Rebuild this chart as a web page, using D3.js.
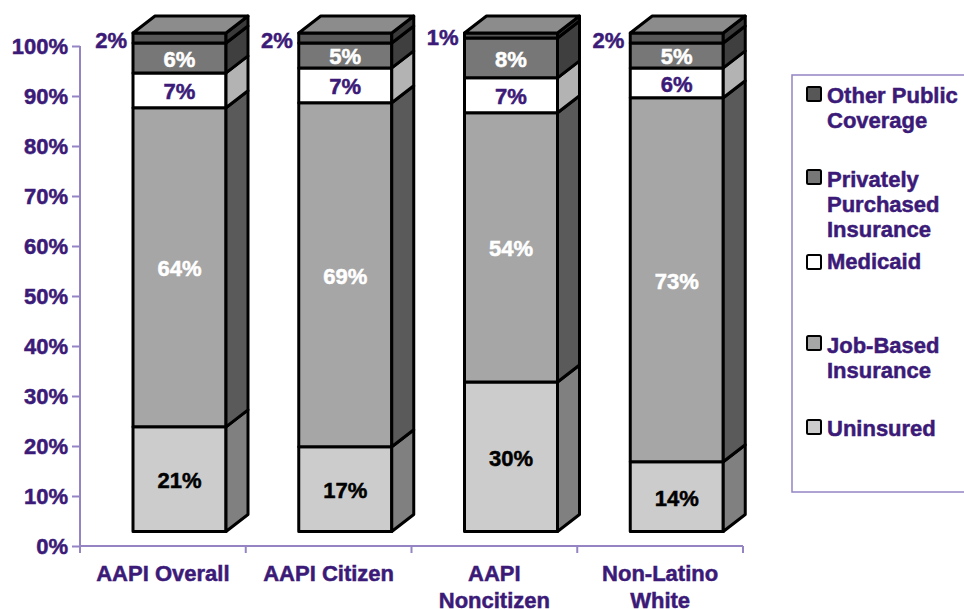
<!DOCTYPE html>
<html><head><meta charset="utf-8">
<script src="https://cdn.jsdelivr.net/npm/d3@7"></script>
<style>body{margin:0;background:#fff}svg{display:block}text{font-family:"Liberation Sans",Arial,sans-serif;font-weight:bold}</style>
</head><body><svg id="c" width="964" height="609"></svg>
<script>
const categories = ["AAPI Overall","AAPI Citizen","AAPI Noncitizen","Non-Latino White"];
const categoryLines = [["AAPI Overall"],["AAPI Citizen"],["AAPI","Noncitizen"],["Non-Latino","White"]];
const seriesNames = ["Uninsured","Job-Based Insurance","Medicaid","Privately Purchased Insurance","Other Public Coverage"];
const uninsured = [21,17,30,14];
const jobBased = [64,69,54,73];
const medicaid = [7,7,7,6];
const privatelyPurchased = [6,5,8,5];
const otherPublic = [2,2,1,2];
const yTicks = [0,10,20,30,40,50,60,70,80,90,100];
const legendLines = [["Other Public","Coverage"],["Privately","Purchased","Insurance"],["Medicaid"],["Job-Based","Insurance"],["Uninsured"]];

const series = [uninsured, jobBased, medicaid, privatelyPurchased, otherPublic];
const frontCol = ["#cccccc","#a6a6a6","#ffffff","#777777","#575757"];
const sideCol = ["#808080","#5a5a5a","#b3b3b3","#3f3f3f","#3a3a3a"];
const topCol = "#8c8c8c";
const labelCol = ["#000000","#ffffff","#3b1a78","#ffffff","#3b1a78"];
const purple = "#3b1a78";
const axisCol = "#9484c4";
const FS = 22;

const svg = d3.select("#c");
const y = d3.scaleLinear().domain([0,100]).range([546,46]);
const yb = d3.scaleLinear().domain([0,100]).range([531.5,33]);
const x = d3.scaleBand().domain(categories).range([80,743]).padding(0);
const barOff = 53, barW = 93, dx = 22, dy = 17;

function heavy(sel, col){ return sel.attr("fill",col).attr("stroke",col).attr("stroke-width",0.5); }

// axes
const ya = d3.axisLeft(y).tickValues(yTicks).tickFormat(d=>d+"%").tickSize(8).tickSizeOuter(0);
const gy = svg.append("g").attr("transform","translate(80,0)").call(ya);
gy.select(".domain").attr("stroke",axisCol).attr("stroke-width",2).attr("d","M0,553V46");
gy.selectAll(".tick line").attr("stroke",axisCol).attr("stroke-width",2);
heavy(gy.selectAll(".tick text"),purple).attr("font-size",FS).attr("font-family",null).attr("x",-12).attr("dy","0.36em");
gy.attr("font-family",null).attr("font-size",null);

const gx = svg.append("g");
gx.append("line").attr("x1",80).attr("x2",743).attr("y1",546).attr("y2",546).attr("stroke",axisCol).attr("stroke-width",2);
[...categories.map(c=>x(c)), 743].forEach(v=>{
  gx.append("line").attr("x1",v).attr("x2",v).attr("y1",546).attr("y2",553).attr("stroke",axisCol).attr("stroke-width",2);
});
categories.forEach((c,i)=>{
  const cx = x(c)+x.bandwidth()/2;
  categoryLines[i].forEach((ln,j)=>{
    heavy(gx.append("text").attr("x",cx).attr("y",581+j*27).attr("text-anchor","middle"),purple).attr("font-size",FS).text(ln);
  });
});

// bars
categories.forEach((c,i)=>{
  const g = svg.append("g");
  const xl = x(c)+barOff, xr = xl+barW;
  let cum = 0;
  series.forEach((s,k)=>{
    const v0 = cum, v1 = cum + s[i]; cum = v1;
    const y0 = yb(v0), y1 = yb(v1);
    g.append("rect").attr("x",xl).attr("y",y1).attr("width",barW).attr("height",y0-y1)
      .attr("fill",frontCol[k]).attr("stroke","#000").attr("stroke-width",3).attr("stroke-linejoin","round");
    g.append("path").attr("d",`M${xr},${y0}L${xr+dx},${y0-dy}L${xr+dx},${y1-dy}L${xr},${y1}Z`)
      .attr("fill",sideCol[k]).attr("stroke","#000").attr("stroke-width",3).attr("stroke-linejoin","round");
    if(k===series.length-1){
      g.append("path").attr("d",`M${xl},${y1}L${xl+dx},${y1-dy}L${xr+dx},${y1-dy}L${xr},${y1}Z`)
        .attr("fill",topCol).attr("stroke","#000").attr("stroke-width",3).attr("stroke-linejoin","round");
    }
  });
  cum = 0;
  series.forEach((s,k)=>{
    const v0 = cum, v1 = cum + s[i]; cum = v1;
    const ym = (yb(v0)+yb(v1))/2;
    if(k===series.length-1){
      heavy(g.append("text").attr("x",xl-6).attr("y",ym+2).attr("dy","0.36em").attr("text-anchor","end"),purple)
        .attr("font-size",FS).text(s[i]+"%");
    } else {
      heavy(g.append("text").attr("x",xl+barW/2).attr("y",ym+1).attr("dy","0.36em").attr("text-anchor","middle"),labelCol[k])
        .attr("font-size",FS).text(s[i]+"%");
    }
  });
});

// legend
const lg = svg.append("g");
lg.append("rect").attr("x",792).attr("y",75).attr("width",200).attr("height",417).attr("fill","#fff").attr("stroke",axisCol).attr("stroke-width",1.5);
const legCols = [frontCol[4],frontCol[3],frontCol[2],frontCol[1],frontCol[0]];
const sqY = [94,177,262,343,427];
const txtY = [95,179,261,345,428];
legendLines.forEach((lines,i)=>{
  lg.append("rect").attr("x",807).attr("y",sqY[i]-7).attr("width",14).attr("height",14)
    .attr("fill",legCols[i]).attr("stroke","#000").attr("stroke-width",2).attr("rx",1.5);
  lines.forEach((ln,j)=>{
    heavy(lg.append("text").attr("x",827).attr("y",txtY[i]+j*25+8),purple).attr("font-size",FS).text(ln);
  });
});
</script></body></html>
